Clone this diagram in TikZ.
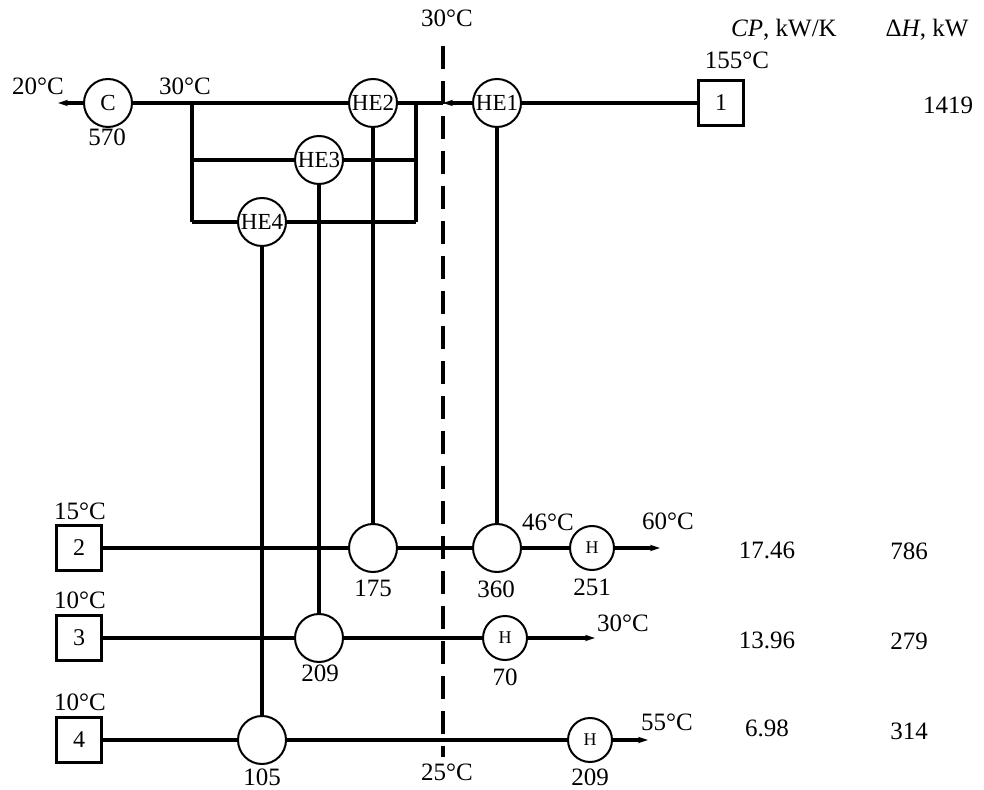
\documentclass[tikz,border=0pt]{standalone}
\usepackage{fontspec}
\setmainfont{Liberation Serif}
\usetikzlibrary{arrows.meta,positioning}

\tikzset{
	hx/.style={circle, draw, line width=1pt, minimum size=24pt, inner sep=0pt, font=\fontsize{11.5}{13}\selectfont},
	util/.style={hx, minimum size=22pt, font=\fontsize{9}{10}\selectfont},
	strm/.style={draw, line width=1.6pt, minimum size=22.5pt, inner sep=0pt, font=\fontsize{12}{14}\selectfont},
	pipe/.style={line width=1.6pt},
	flow/.style={pipe, -{Stealth[length=5pt, width=3.2pt]}},
	limit/.style={line width=1.6pt, dash pattern=on 11.5pt off 6pt},
	lbl/.style={font=\fontsize{12.5}{15}\selectfont, inner sep=0pt}
}

\begin{document}
\begin{tikzpicture}[x=0.5pt, y=-0.5pt]
	\useasboundingbox (0,0) rectangle (984,790);

	% hot stream 1
	\node[strm] (s1) at (721,103) {1};
	\node[hx] (he1) at (497,103) {HE1};
	\node[hx] (he2) at (373,103) {HE2};
	\node[hx] (he3) at (319,160) {HE3};
	\node[hx] (he4) at (262,222) {HE4};
	\node[hx] (cool) at (108,103) {C};
	\coordinate (end1) at (58,103);
	\coordinate (mid1) at (443,103);
	\coordinate (splitR) at (416,103);
	\coordinate (splitL) at (192,103);
	\coordinate (br3R) at (416,160);
	\coordinate (br3L) at (192,160);
	\coordinate (br4R) at (416,222);
	\coordinate (br4L) at (192,222);

	% cold streams
	\node[strm] (s2) at (79,548) {2};
	\node[hx] (m2a) at (373,548) {};
	\node[hx] (m2b) at (497,548) {};
	\node[util] (h2) at (592,548) {H};
	\coordinate (end2) at (660,548);

	\node[strm] (s3) at (79,638) {3};
	\node[hx] (m3) at (319,638) {};
	\node[util] (h3) at (505,638) {H};
	\coordinate (end3) at (595,638);

	\node[strm] (s4) at (79,740) {4};
	\node[hx] (m4) at (262,740) {};
	\node[util] (h4) at (590,740) {H};
	\coordinate (end4) at (648,740);

	% pinch
	\node[lbl] (pinchT) at (447,18) {30°C};
	\node[lbl] (pinchB) at (447,772) {25°C};
	\coordinate (dtop) at (443,46);
	\coordinate (dbot) at (443,757);
	\draw[limit] (dtop) -- (dbot);

	% pipes of stream 1
	\draw[pipe] (s1) -- (he1);
	\draw[flow] (he1) -- (mid1);
	\draw[pipe] (mid1) -- (he2);
	\draw[pipe] (he2) -- (cool);
	\draw[flow] (cool) -- (end1);
	\draw[pipe] (splitL) -- (br4L);
	\draw[pipe] (splitR) -- (br4R);
	\draw[pipe] (br3L) -- (he3);
	\draw[pipe] (he3) -- (br3R);
	\draw[pipe] (br4L) -- (he4);
	\draw[pipe] (he4) -- (br4R);

	% matches
	\draw[pipe] (he1) -- (m2b);
	\draw[pipe] (he2) -- (m2a);
	\draw[pipe] (he3) -- (m3);
	\draw[pipe] (he4) -- (m4);

	% pipes of cold streams
	\draw[pipe] (s2) -- (m2a);
	\draw[pipe] (m2a) -- (m2b);
	\draw[pipe] (m2b) -- (h2);
	\draw[flow] (h2) -- (end2);
	\draw[pipe] (s3) -- (m3);
	\draw[pipe] (m3) -- (h3);
	\draw[flow] (h3) -- (end3);
	\draw[pipe] (s4) -- (m4);
	\draw[pipe] (m4) -- (h4);
	\draw[flow] (h4) -- (end4);

	% headings
	\node[lbl] (hCP) at (784,30) {\textit{CP}, kW/K};
	\node[lbl] (hDH) at (927,30) {Δ\textit{H}, kW};

	% labels of stream 1
	\node[lbl] (t1in) at (737,60) {155°C};
	\node[lbl] (t1out) at (38,86) {20°C};
	\node[lbl] (t1mix) at (185,86) {30°C};
	\node[lbl] (qC) at (107,137) {570};
	\node[lbl] (dh1) at (948,105) {1419};

	% labels of stream 2
	\node[lbl] (t2in) at (80,511) {15°C};
	\node[lbl] (t2mid) at (548,522) {46°C};
	\node[lbl] (t2out) at (668,521) {60°C};
	\node[lbl] (q2a) at (373,588) {175};
	\node[lbl] (q2b) at (496,589) {360};
	\node[lbl] (qH2) at (592,587) {251};
	\node[lbl] (cp2) at (767,550) {17.46};
	\node[lbl] (dh2) at (909,551) {786};

	% labels of stream 3
	\node[lbl] (t3in) at (80,600) {10°C};
	\node[lbl] (t3out) at (623,623) {30°C};
	\node[lbl] (q3) at (320,673) {209};
	\node[lbl] (qH3) at (505,677) {70};
	\node[lbl] (cp3) at (767,640) {13.96};
	\node[lbl] (dh3) at (909,641) {279};

	% labels of stream 4
	\node[lbl] (t4in) at (80,702) {10°C};
	\node[lbl] (t4out) at (667,722) {55°C};
	\node[lbl] (q4) at (262,777) {105};
	\node[lbl] (qH4) at (590,777) {209};
	\node[lbl] (cp4) at (767,728) {6.98};
	\node[lbl] (dh4) at (909,731) {314};
\end{tikzpicture}
\end{document}
